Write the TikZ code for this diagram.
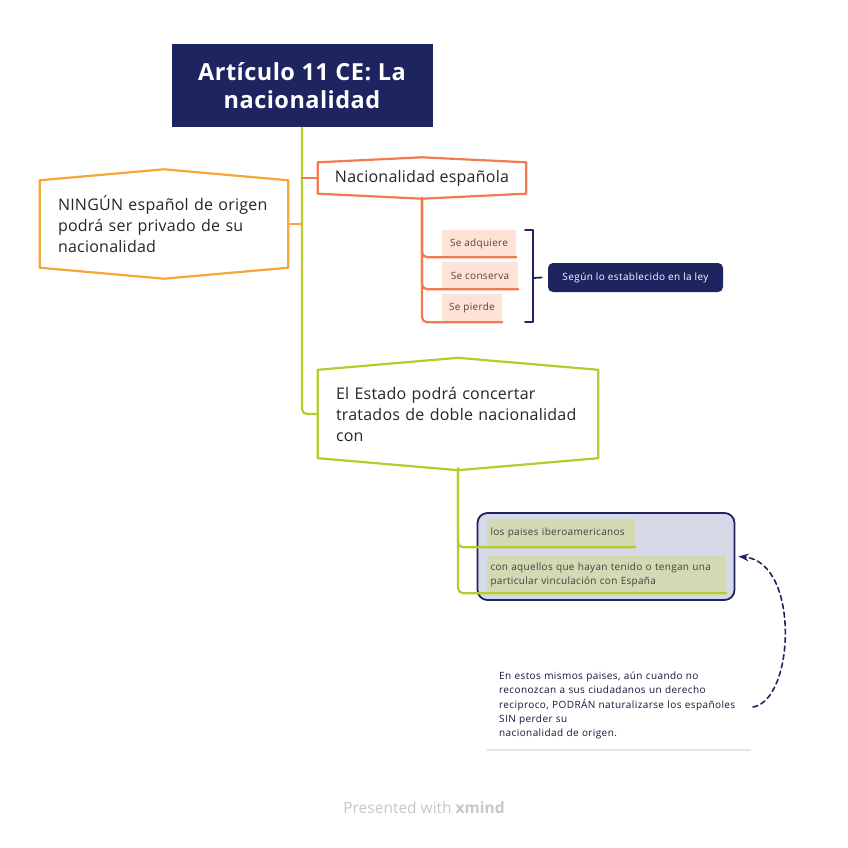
\documentclass[tikz,border=0pt]{standalone}
\usepackage{fontspec}
\setmainfont{Open Sans}
\usetikzlibrary{arrows.meta}
\definecolor{navy}{HTML}{1E2460}
\definecolor{amber}{HTML}{F7A734}
\definecolor{coral}{HTML}{F47A4F}
\definecolor{blush}{HTML}{FDE2D8}
\definecolor{rust}{HTML}{6B3B2F}
\definecolor{lime}{HTML}{B8CB2C}
\definecolor{lavender}{HTML}{D6D9E7}
\definecolor{olive}{HTML}{D3DAB3}
\newcommand\hexframe[3]{\draw[#1] (#2.north west) -- ([yshift=#3]#2.north) -- (#2.north east)
  -- (#2.south east) -- ([yshift=-#3]#2.south) -- (#2.south west) -- cycle;}
\newcommand\spaced[1]{\addfontfeatures{LetterSpace=#1}}
\begin{document}
\begin{tikzpicture}[x=1pt,y=-1pt,>=Stealth,line cap=round,line join=round,
  big/.style={font=\fontsize{16}{21}\selectfont\spaced{1.5},text=black!85,inner sep=0pt},
  leaf/.style={font=\fontsize{10}{14}\selectfont\spaced{3},inner sep=0pt},
  branch/.style={line width=2.2pt,rounded corners=5pt}]
  \useasboundingbox[fill=white] (0,0) rectangle (848,848);
  % central topic
  \node[fill=navy,text=white,minimum width=261,minimum height=83,align=center,
    font=\fontsize{23.5}{28}\selectfont\bfseries\spaced{2}] (title) at (302,86) {Artículo 11 CE: La\\nacionalidad};
  % main topics
  \node[big,minimum width=248,minimum height=87,text width=212,align=left] (ningun) at (164,224)
    {NINGÚN español de origen\\podrá ser privado de su\\nacionalidad};
  \node[big,minimum width=208,minimum height=31] (nac) at (422,178) {Nacionalidad española};
  \node[big,minimum width=280,minimum height=88,text width=244,align=left] (estado) at (458,414)
    {El Estado podrá concertar\\tratados de doble nacionalidad\\con};
  \hexframe{amber,line width=2.2pt}{ningun}{11pt}
  \hexframe{coral,line width=2.2pt}{nac}{5pt}
  \hexframe{lime,line width=2.2pt}{estado}{12pt}
  \draw[branch,lime] (title.south) |- (estado.west);
  \draw[branch,coral] (nac.west) -- (nac.west -| title.south);
  \draw[branch,amber] (ningun.east) -- (ningun.east -| title.south);
  % subtopics of nacionalidad
  \node[leaf,fill=blush,text=rust,minimum width=74,minimum height=27] (adq) at (479,243.5) {Se adquiere};
  \node[leaf,fill=blush,text=rust,minimum width=76,minimum height=27] (cons) at (480,275.5) {Se conserva};
  \node[leaf,fill=blush,text=rust,minimum width=60,minimum height=28] (pier) at (472,308) {Se pierde};
  \foreach \n in {adq,cons,pier}
    \draw[branch,coral] ([yshift=-4pt]nac.south) |- (\n.south east);
  \node[leaf,fill=navy,text=white,rounded corners=5pt,minimum width=175,minimum height=29,
    font=\fontsize{10}{12}\selectfont\spaced{4}] (ley) at (635.5,277.5) {Según lo establecido en la ley};
  \coordinate (brk) at (533,278);
  \draw[navy,line width=1.8pt] ([xshift=-8pt]brk |- adq.north) -- (brk |- adq.north)
    -- (brk |- pier.south) -- ([xshift=-8pt]brk |- pier.south);
  \draw[navy,line width=1.8pt] (brk) -- ([xshift=-6pt]ley.west);
  % subtopics of doble nacionalidad
  \node[draw=navy,line width=1.8pt,fill=lavender,rounded corners=10pt,minimum width=257,
    minimum height=87] (grp) at (606,556.5) {};
  \node[leaf,fill=olive,text=black!75,minimum width=148,minimum height=28,text width=141,
    align=left] (pais) at (561,533) {los paises iberoamericanos};
  \node[leaf,fill=olive,text=black!75,minimum width=239,minimum height=37,text width=232,
    align=left] (vinc) at (606.5,574.5)
    {con aquellos que hayan tenido o tengan una\\particular vinculación con España};
  \foreach \n in {pais,vinc}
    \draw[branch,lime] ([yshift=-10pt]estado.south) |- (\n.south east);
  % note
  \node[anchor=west,text width=252,align=left,inner sep=0pt,text=navy!60!black,
    font=\fontsize{10}{14.3}\selectfont\spaced{4}] (note) at (499,705.5)
    {En estos mismos paises, aún cuando no\\reconozcan a sus ciudadanos un derecho\\
     reciproco, PODRÁN naturalizarse los españoles\\SIN perder su\\nacionalidad de origen.};
  \coordinate (tail) at (753,707);
  \draw[navy,line width=1.6pt,dash pattern=on 5pt off 3.5pt,->] (tail)
    .. controls (795,700) and (800,562) .. ([xshift=3pt]grp.east);
  \draw[black!10,line width=2pt] (487,750) -- (750,750);
  \node[text=black!22,font=\fontsize{15.5}{18}\selectfont] (footer) at (424,808)
    {Presented with \textbf{xmind}};
\end{tikzpicture}
\end{document}
